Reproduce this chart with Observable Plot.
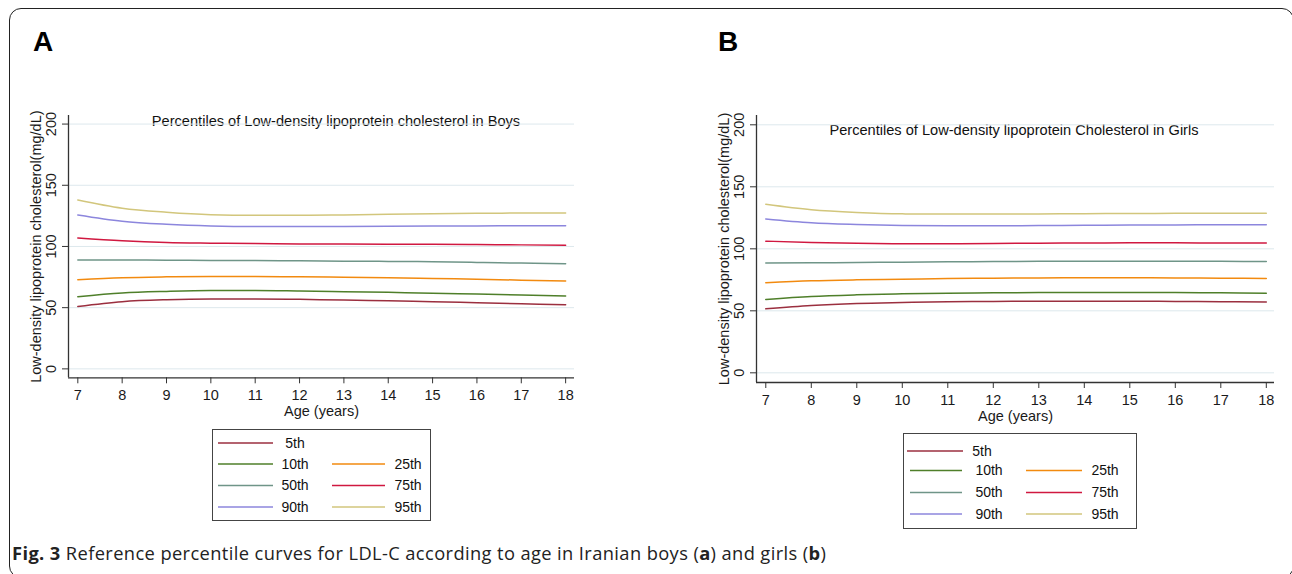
<!DOCTYPE html>
<html>
<head>
<meta charset="utf-8">
<script src="https://cdn.jsdelivr.net/npm/d3@7"></script>
<script src="https://cdn.jsdelivr.net/npm/@observablehq/plot@0.6"></script>
<style>
  html, body { margin: 0; padding: 0; background: #fff; }
  #page { position: relative; width: 1292px; height: 574px; overflow: hidden; font-family: "Liberation Sans", Arial, sans-serif; color: #111; }
  .border { position: absolute; left: 9px; top: 8px; width: 1285px; height: 570px; border: 1.6px solid #222; border-radius: 12px; box-sizing: border-box; }
  .letter { position: absolute; font-weight: bold; font-size: 28px; line-height: 28px; color: #000; }
  .ptitle { position: absolute; width: 600px; text-align: center; font-size: 14.6px; line-height: 18px; color: #111; white-space: nowrap; }
  .caption { position: absolute; left: 12px; top: 542px; font-family: "Open Sans", "Liberation Sans", sans-serif; font-size: 18.3px; line-height: 22px; color: #222; white-space: nowrap; }
  .caption b { font-weight: bold; }
  svg.plot { position: absolute; }
</style>
</head>
<body>
<div id="page">
  <div class="border"></div>
  <div class="letter" style="left:33px; top:28px;">A</div>
  <div class="letter" style="left:718px; top:28px;">B</div>
  <div class="ptitle" style="left:36px; top:112px;">Percentiles of Low-density lipoprotein cholesterol in Boys</div>
  <div class="ptitle" style="left:714px; top:121px;">Percentiles of Low-density lipoprotein Cholesterol in Girls</div>
  <div class="caption" id="caption"><b>Fig. 3</b> Reference percentile curves for LDL-C according to age in Iranian boys (<b>a</b>) and girls (<b>b</b>)</div>
</div>
<script>
// ---------------- data ----------------
const ages = [7, 8, 9, 10, 11, 12, 13, 14, 15, 16, 17, 18];
const yTicks = [0, 50, 100, 150, 200];
const pctLabels = ["5th", "10th", "25th", "50th", "75th", "90th", "95th"];
const pctColors = ["#9b2f3f", "#4f7f2a", "#f28a0f", "#6f9588", "#d01840", "#8c86dd", "#d2c67c"];

// Boys (panel A)
const boys5  = [51.0, 54.9, 56.5, 57.1, 57.1, 56.8, 56.2, 55.7, 54.9, 54.1, 53.2, 52.4];
const boys10 = [59.0, 62.0, 63.3, 64.0, 64.0, 63.6, 63.1, 62.5, 61.7, 61.2, 60.4, 59.5];
const boys25 = [72.8, 74.5, 75.2, 75.5, 75.5, 75.2, 74.9, 74.4, 73.9, 73.3, 72.5, 71.7];
const boys50 = [88.9, 88.9, 88.8, 88.6, 88.5, 88.3, 88.0, 87.8, 87.5, 87.0, 86.4, 85.9];
const boys75 = [106.9, 104.6, 103.2, 102.7, 102.4, 102.1, 102.0, 101.9, 101.8, 101.6, 101.3, 101.0];
const boys90 = [125.8, 120.7, 118.2, 116.8, 116.3, 116.3, 116.3, 116.5, 116.7, 116.8, 116.9, 117.0];
const boys95 = [138.0, 131.3, 128.0, 126.0, 125.5, 125.5, 125.8, 126.3, 126.8, 127.1, 127.3, 127.4];

// Girls (panel B)
const girls5  = [51.6, 54.3, 55.9, 56.7, 57.3, 57.5, 57.8, 57.8, 57.8, 57.5, 57.4, 57.1];
const girls10 = [59.2, 61.6, 62.9, 63.7, 64.2, 64.5, 64.7, 64.8, 64.8, 64.7, 64.5, 64.2];
const girls25 = [72.7, 74.2, 75.0, 75.5, 76.0, 76.3, 76.5, 76.6, 76.6, 76.5, 76.3, 76.1];
const girls50 = [88.5, 88.7, 89.0, 89.2, 89.5, 89.7, 89.9, 90.0, 90.0, 90.0, 89.9, 89.8];
const girls75 = [106.2, 105.1, 104.4, 104.1, 104.1, 104.3, 104.5, 104.7, 104.8, 104.8, 104.7, 104.6];
const girls90 = [124.1, 121.0, 119.6, 118.8, 118.5, 118.5, 118.7, 119.0, 119.2, 119.3, 119.4, 119.4];
const girls95 = [135.9, 131.5, 129.3, 128.2, 128.0, 128.0, 128.1, 128.3, 128.5, 128.6, 128.6, 128.6];

const yLabel = "Low-density lipoprotein cholesterol(mg/dL)";
const xLabel = "Age (years)";

// ---------------- build tidy tables ----------------
function tidy(series) {
  const rows = [];
  series.forEach((vals, i) => {
    vals.forEach((v, j) => rows.push({ age: ages[j], value: v, pct: pctLabels[i] }));
  });
  return rows;
}
const boysData = tidy([boys5, boys10, boys25, boys50, boys75, boys90, boys95]);
const girlsData = tidy([girls5, girls10, girls25, girls50, girls75, girls90, girls95]);

const page = document.getElementById("page");

function panel(data, cfg) {
  const svg = Plot.plot({
    width: 600,
    height: 330,
    marginLeft: cfg.ml,
    marginRight: cfg.mr,
    marginTop: 15,
    marginBottom: cfg.mb,
    style: { fontFamily: "'Liberation Sans', Arial, sans-serif", fontSize: "14px", color: "#1a1a1a", background: "transparent", overflow: "visible" },
    x: { domain: cfg.xDomain },
    y: { domain: cfg.yDomain },
    color: { domain: pctLabels, range: pctColors },
    marks: [
      Plot.gridY(yTicks, { stroke: "#dde8ed", strokeOpacity: 1, strokeWidth: 1 }),
      Plot.ruleX([cfg.xDomain[0]], { stroke: "#333", strokeWidth: 1.3 }),
      Plot.ruleY([cfg.yDomain[0]], { stroke: "#333", strokeWidth: 1.3 }),
      Plot.axisX(ages, { tickSize: 6, tickPadding: cfg.xpad, stroke: "#333", label: xLabel, labelAnchor: "center", labelOffset: cfg.xlo, labelArrow: "none", fontSize: 14.5 }),
      Plot.axisY(yTicks, { tickSize: 6, tickPadding: 6.5, tickRotate: -90, stroke: "#333", label: yLabel, labelAnchor: "center", labelOffset: 38, labelArrow: "none", fontSize: 14.5 }),
      Plot.line(data, { x: "age", y: "value", z: "pct", stroke: "pct", strokeWidth: 1.5, curve: "monotone-x" })
    ]
  });
  svg.classList.add("plot");
  svg.style.left = cfg.left + "px";
  svg.style.top = cfg.top + "px";
  page.appendChild(svg);
}

panel(boysData, { left: 0, top: 100, ml: 68, mr: 26, mb: 52.7, xDomain: [6.79, 18.2], yDomain: [-7.3, 207], xpad: 6, xlo: 38 });
panel(girlsData, { left: 690, top: 100, ml: 66, mr: 16, mb: 48, xDomain: [6.796, 18.18], yDomain: [-7.8, 207.5], xpad: 6, xlo: 38 });

// ---------------- legends ----------------
const legendSpecs = [
  { box: [212, 429, 218, 91], rows: [443, 464, 485.5, 507],
    c1: [218, 273, 295], c1first: [218, 273, 295], c2: [332, 385, 408] },
  { box: [903, 433, 233, 95], rows: [451, 470.5, 492.5, 514],
    c1: [910, 962, 989], c1first: [907, 963, 982], c2: [1026, 1082, 1105] }
];
// legend layout: row 0 -> 5th; rows 1..3 -> (10th,25th), (50th,75th), (90th,95th)
const legendOrder = [[0], [1, 2], [3, 4], [5, 6]];

const overlay = d3.select(page).append("svg")
  .attr("width", 1292).attr("height", 574)
  .style("position", "absolute").style("left", "0px").style("top", "0px")
  .style("font-family", "'Liberation Sans', Arial, sans-serif").style("font-size", "14px");

legendSpecs.forEach(spec => {
  const [bx, by, bw, bh] = spec.box;
  overlay.append("rect").attr("x", bx + 0.5).attr("y", by + 0.5).attr("width", bw).attr("height", bh)
    .attr("fill", "none").attr("stroke", "#444").attr("stroke-width", 1);
  legendOrder.forEach((idxs, r) => {
    const y = spec.rows[r];
    idxs.forEach((k, c) => {
      const col = c === 0 ? (k === 0 ? spec.c1first : spec.c1) : spec.c2;
      overlay.append("line").attr("x1", col[0]).attr("x2", col[1]).attr("y1", y).attr("y2", y)
        .attr("stroke", pctColors[k]).attr("stroke-width", 1.6);
      overlay.append("text").attr("x", col[2]).attr("y", y).attr("dy", "0.35em")
        .attr("text-anchor", "middle").attr("fill", "#111").text(pctLabels[k]);
    });
  });
});

// ---------------- caption width fit (reference spans x 12 -> 826) ----------------
const cap = document.getElementById("caption");
const capText = cap.textContent;
const w = cap.getBoundingClientRect().width;
const ls = (814 - w) / Math.max(1, capText.length - 1);
cap.style.letterSpacing = ls.toFixed(3) + "px";
</script>
</body>
</html>
